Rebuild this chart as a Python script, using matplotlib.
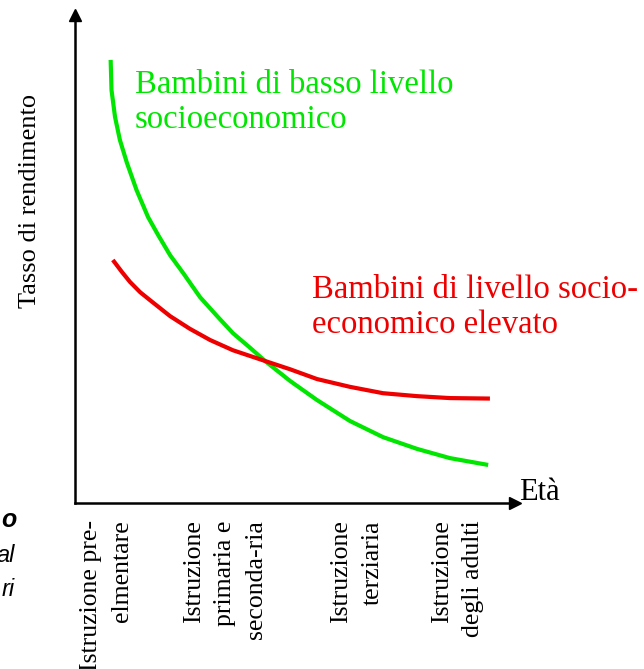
import matplotlib
matplotlib.use("Agg")
import matplotlib.pyplot as plt

# curves (arbitrary units, axes run 0..10)
green_x = [0.81, 0.83, 0.91, 1.02, 1.18, 1.40, 1.66, 1.89, 2.16, 2.46, 2.84, 3.23, 3.59,
           3.98, 4.32, 4.89, 5.50, 6.25, 7.00, 7.77, 8.52, 9.39]
green_y = [9.08, 8.46, 7.91, 7.44, 6.97, 6.41, 5.86, 5.49, 5.08, 4.71, 4.22, 3.83, 3.48,
           3.18, 2.91, 2.50, 2.11, 1.68, 1.35, 1.11, 0.92, 0.78]
red_x = [0.86, 1.07, 1.25, 1.48, 1.70, 2.16, 2.61, 3.07, 3.59, 4.32, 4.89, 5.50, 6.25,
         7.00, 7.77, 8.52, 9.43]
red_y = [4.98, 4.73, 4.53, 4.32, 4.16, 3.83, 3.57, 3.34, 3.13, 2.91, 2.74, 2.54, 2.38,
         2.25, 2.19, 2.15, 2.14]

tick_pos = [0.72, 3.41, 6.41, 8.70]
tick_labels = ["Istruzione pre-\nelmentare",
               "Istruzione\nprimaria e\nseconda-ria",
               "Istruzione\nterziaria",
               "Istruzione\ndegli adulti"]

green = "#00e600"
red = "#ee0000"
serif = "Liberation Serif"

fig = plt.figure(figsize=(6.44, 6.69), dpi=100)
ax = fig.add_axes([75/644, 166/669, 440/644, 488/669])

ax.plot(green_x, green_y, color=green, lw=3, solid_capstyle="butt", solid_joinstyle="round")
ax.plot(red_x, red_y, color=red, lw=3, solid_capstyle="butt", solid_joinstyle="round")

ax.set_xlim(0, 10)
ax.set_ylim(0, 10)
for s in ["top", "right"]:
    ax.spines[s].set_visible(False)
for s in ["left", "bottom"]:
    ax.spines[s].set_linewidth(1.8)
    ax.spines[s].set_color("black")
# arrow heads
ax.plot(1, 0, ">k", ms=9, transform=ax.get_yaxis_transform(), clip_on=False)
ax.plot(0, 1, "^k", ms=9, transform=ax.get_xaxis_transform(), clip_on=False)

ax.set_yticks([])
ax.set_xticks(tick_pos)
ax.set_xticklabels(tick_labels, rotation=90, multialignment="right",
                   fontfamily=serif, fontsize=18.5, linespacing=1.55)
ax.tick_params(axis="x", length=0, pad=12.5)

ax.set_ylabel("Tasso di rendimento", fontfamily=serif, fontsize=19)
ax.yaxis.set_label_coords(-0.078, 0.62)

ax.text(1.36, 7.68, "Bambini di basso livello\nsocioeconomico", color=green,
        fontfamily=serif, fontsize=23.5, va="baseline", linespacing=1.2)
ax.text(5.38, 3.48, "Bambini di livello socio-\neconomico elevato", color=red,
        fontfamily=serif, fontsize=23.5, va="baseline", linespacing=1.2)
ax.text(10.1, 0.06, "Età", fontfamily=serif, fontsize=22, va="baseline", clip_on=False)

# cut-off fragments of neighbouring text on the left
fig.text(16/644, 1 - 520/669, "o", fontsize=18, fontweight="bold", fontstyle="italic",
         ha="right", va="center", fontfamily="Liberation Sans")
fig.text(15/644, 1 - 555/669, "al", fontsize=17, fontstyle="italic",
         ha="right", va="center", fontfamily="Liberation Sans")
fig.text(15/644, 1 - 590/669, "ri", fontsize=17, fontstyle="italic",
         ha="right", va="center", fontfamily="Liberation Sans")

fig.savefig("out.png", dpi=100)
